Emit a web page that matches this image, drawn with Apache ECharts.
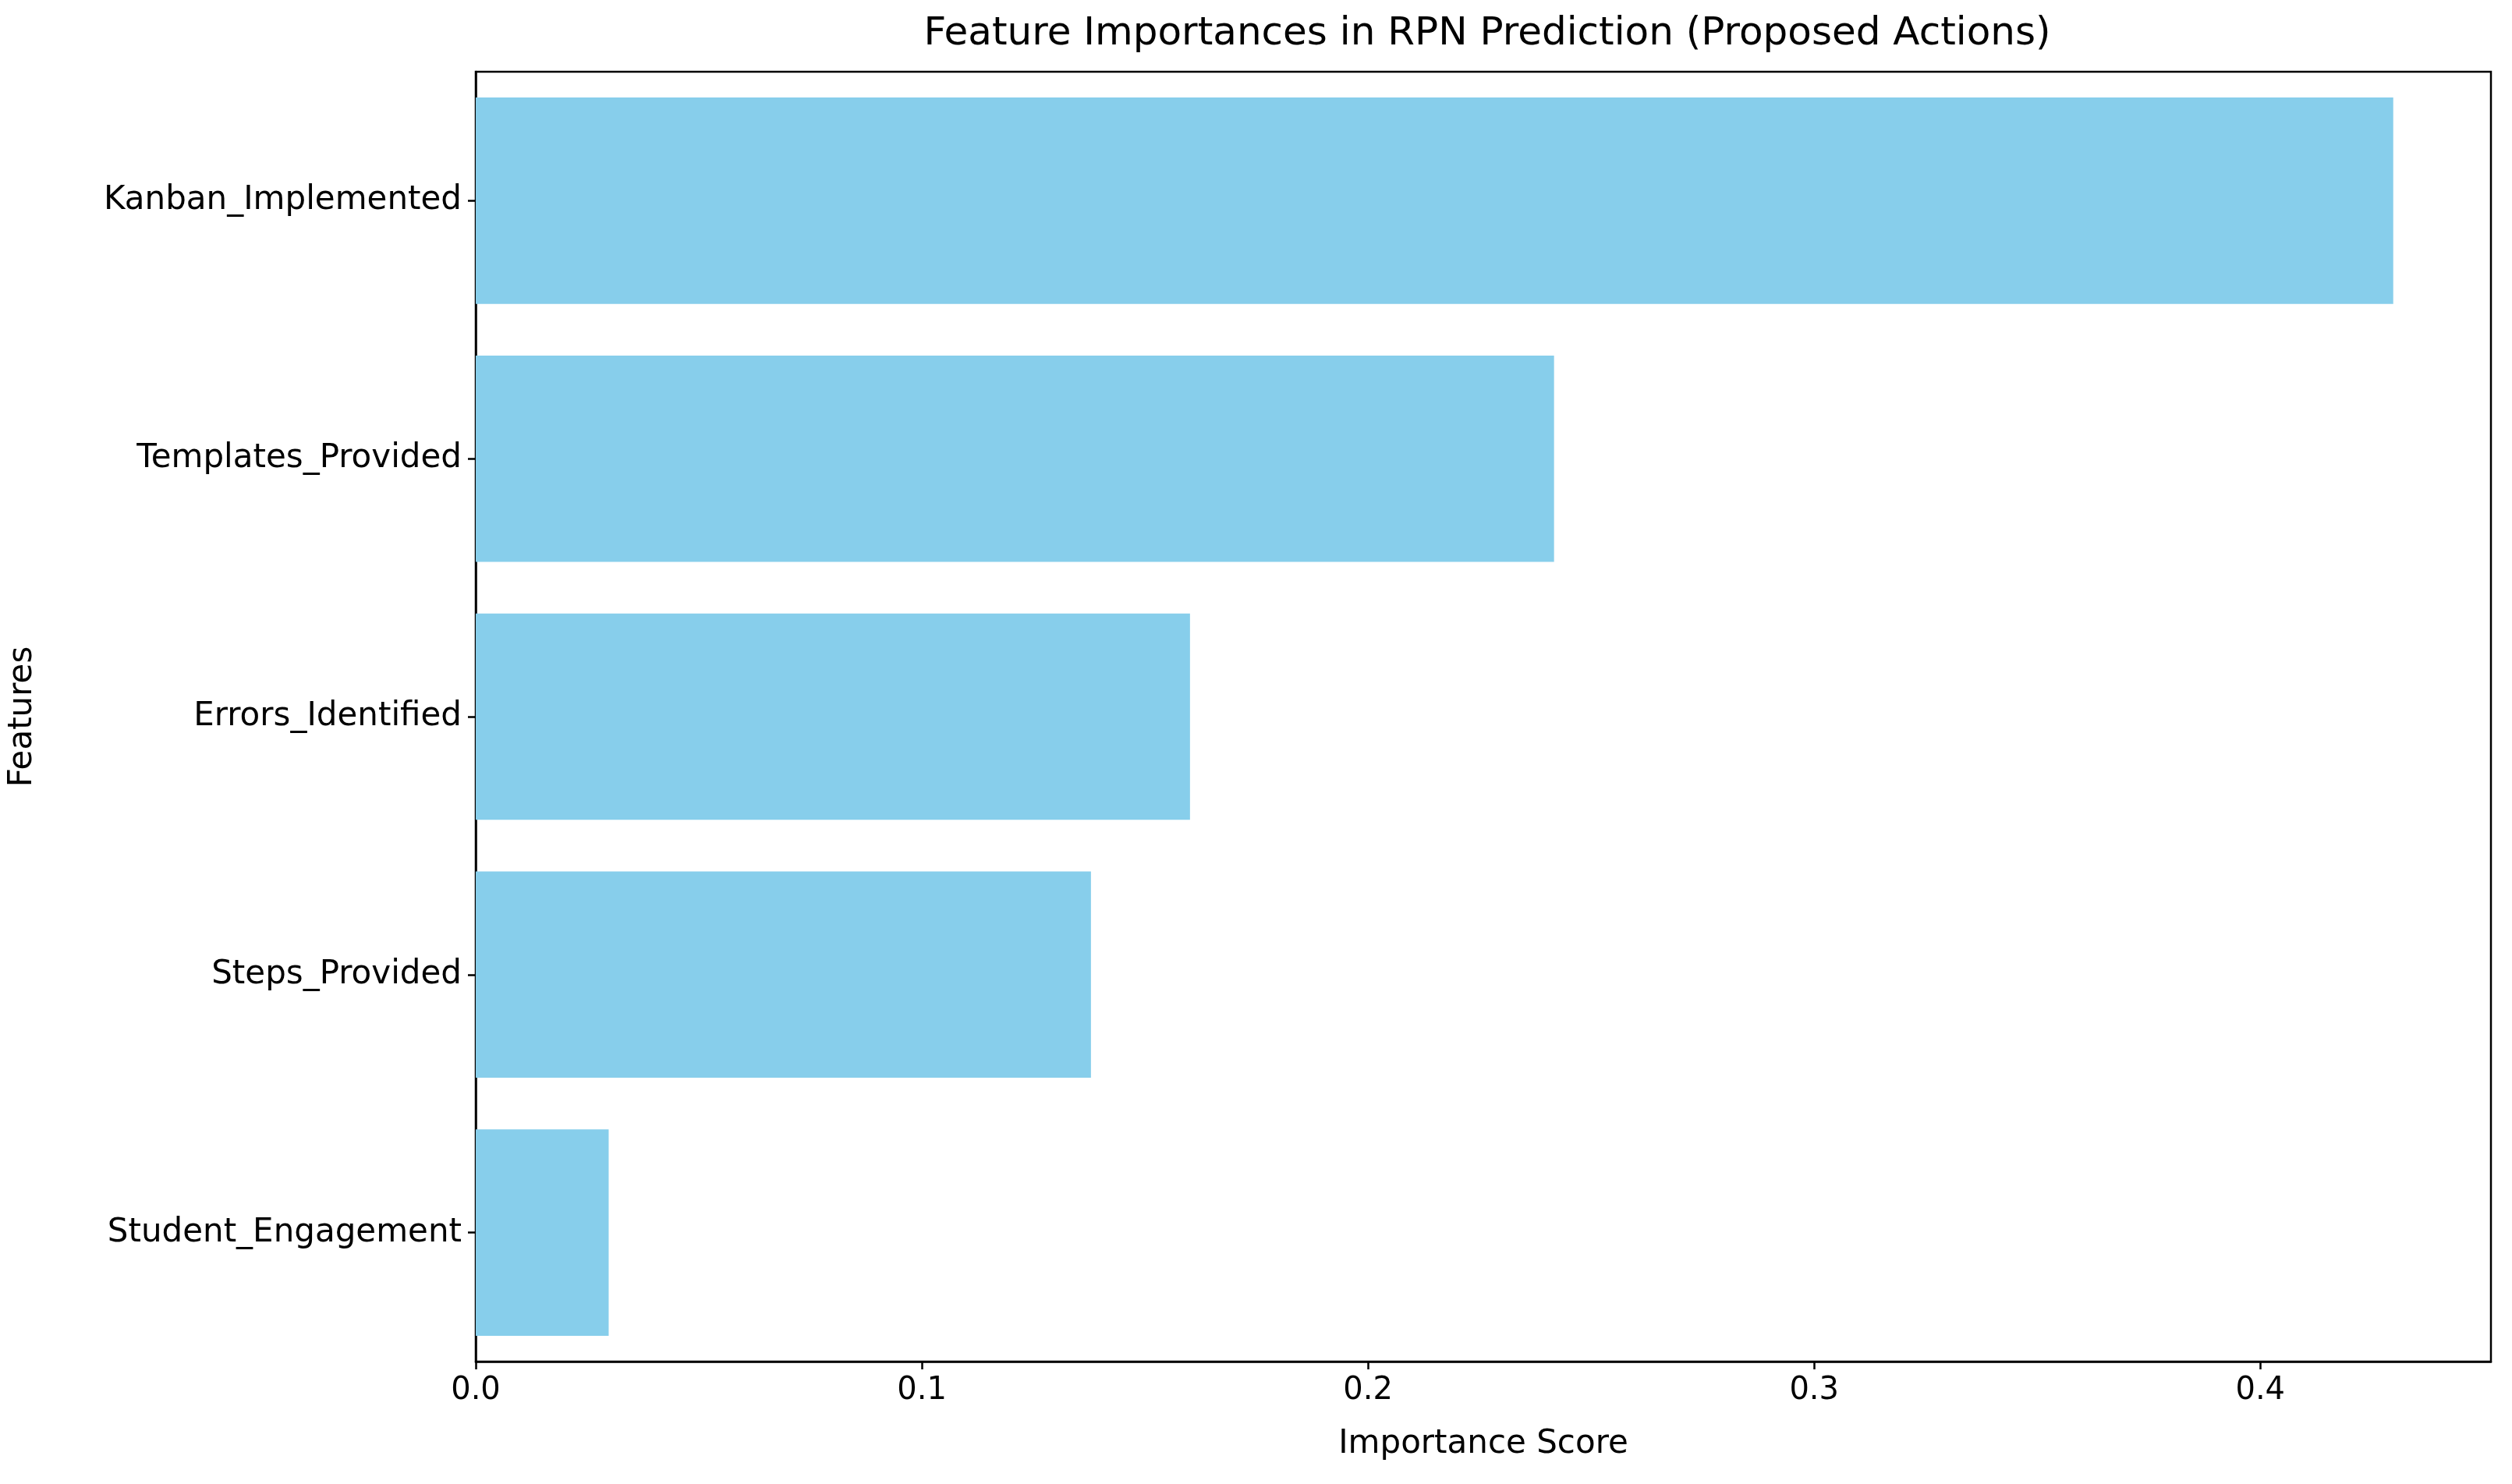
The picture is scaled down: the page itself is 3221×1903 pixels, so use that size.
<!DOCTYPE html>
<html lang="en">
<head>
    <meta charset="UTF-8">
    <title>Feature Importances</title>
    <script src="https://cdn.jsdelivr.net/npm/echarts@6/dist/echarts.min.js"></script>
    <style>
        html, body { margin: 0; padding: 0; background: #fff; }
        #main { width: 3221px; height: 1903px; }
    </style>
</head>
<body>
<div id="main"></div>
<script>
    var features = ['Kanban_Implemented', 'Templates_Provided', 'Errors_Identified', 'Steps_Provided', 'Student_Engagement'];
    var scores = [0.4298, 0.2417, 0.1601, 0.1379, 0.0298];
    var xTicks = [0, 0.1, 0.2, 0.3, 0.4];

    var chart = echarts.init(document.getElementById('main'));
    var font = 'DejaVu Sans';

    var option = {
        backgroundColor: '#ffffff',
        animation: false,
        title: {
            text: 'Feature Importances in RPN Prediction (Proposed Actions)',
            left: 1902, top: 14, textAlign: 'center',
            textStyle: { fontFamily: font, fontSize: 50, fontWeight: 'normal', color: '#000' }
        },
        grid: {
            left: 610, right: 27, top: 92, bottom: 157,
            show: true, borderColor: '#000', borderWidth: 2.5, backgroundColor: 'transparent'
        },
        xAxis: {
            type: 'value', min: 0, max: 0.4517, interval: 0.1,
            name: 'Importance Score', nameLocation: 'middle', nameGap: 85,
            nameTextStyle: { fontFamily: font, fontSize: 42, color: '#000' },
            splitLine: { show: false },
            axisLine: { show: true, lineStyle: { color: '#000', width: 2.5 } },
            axisTick: { show: true, length: 10, lineStyle: { color: '#000', width: 2.5 } },
            axisLabel: {
                fontFamily: font, fontSize: 40, color: '#000', margin: 18, showMaxLabel: false,
                formatter: function (v) {
                    for (var i = 0; i < xTicks.length; i++) {
                        if (Math.abs(v - xTicks[i]) < 1e-9) return xTicks[i].toFixed(1);
                    }
                    return '';
                }
            }
        },
        yAxis: {
            type: 'category', data: features, inverse: true,
            name: 'Features', nameLocation: 'middle', nameGap: 560, nameRotate: 90,
            nameTextStyle: { fontFamily: font, fontSize: 42, color: '#000' },
            axisLine: { show: true, lineStyle: { color: '#000', width: 2.5 } },
            axisTick: { show: true, alignWithLabel: true, length: 10, lineStyle: { color: '#000', width: 2.5 } },
            axisLabel: { fontFamily: font, fontSize: 42, color: '#000', margin: 18 }
        },
        series: [{
            type: 'bar',
            data: scores,
            barCategoryGap: '20%',
            itemStyle: { color: '#87ceeb' }
        }]
    };
    chart.setOption(option);
</script>
</body>
</html>
